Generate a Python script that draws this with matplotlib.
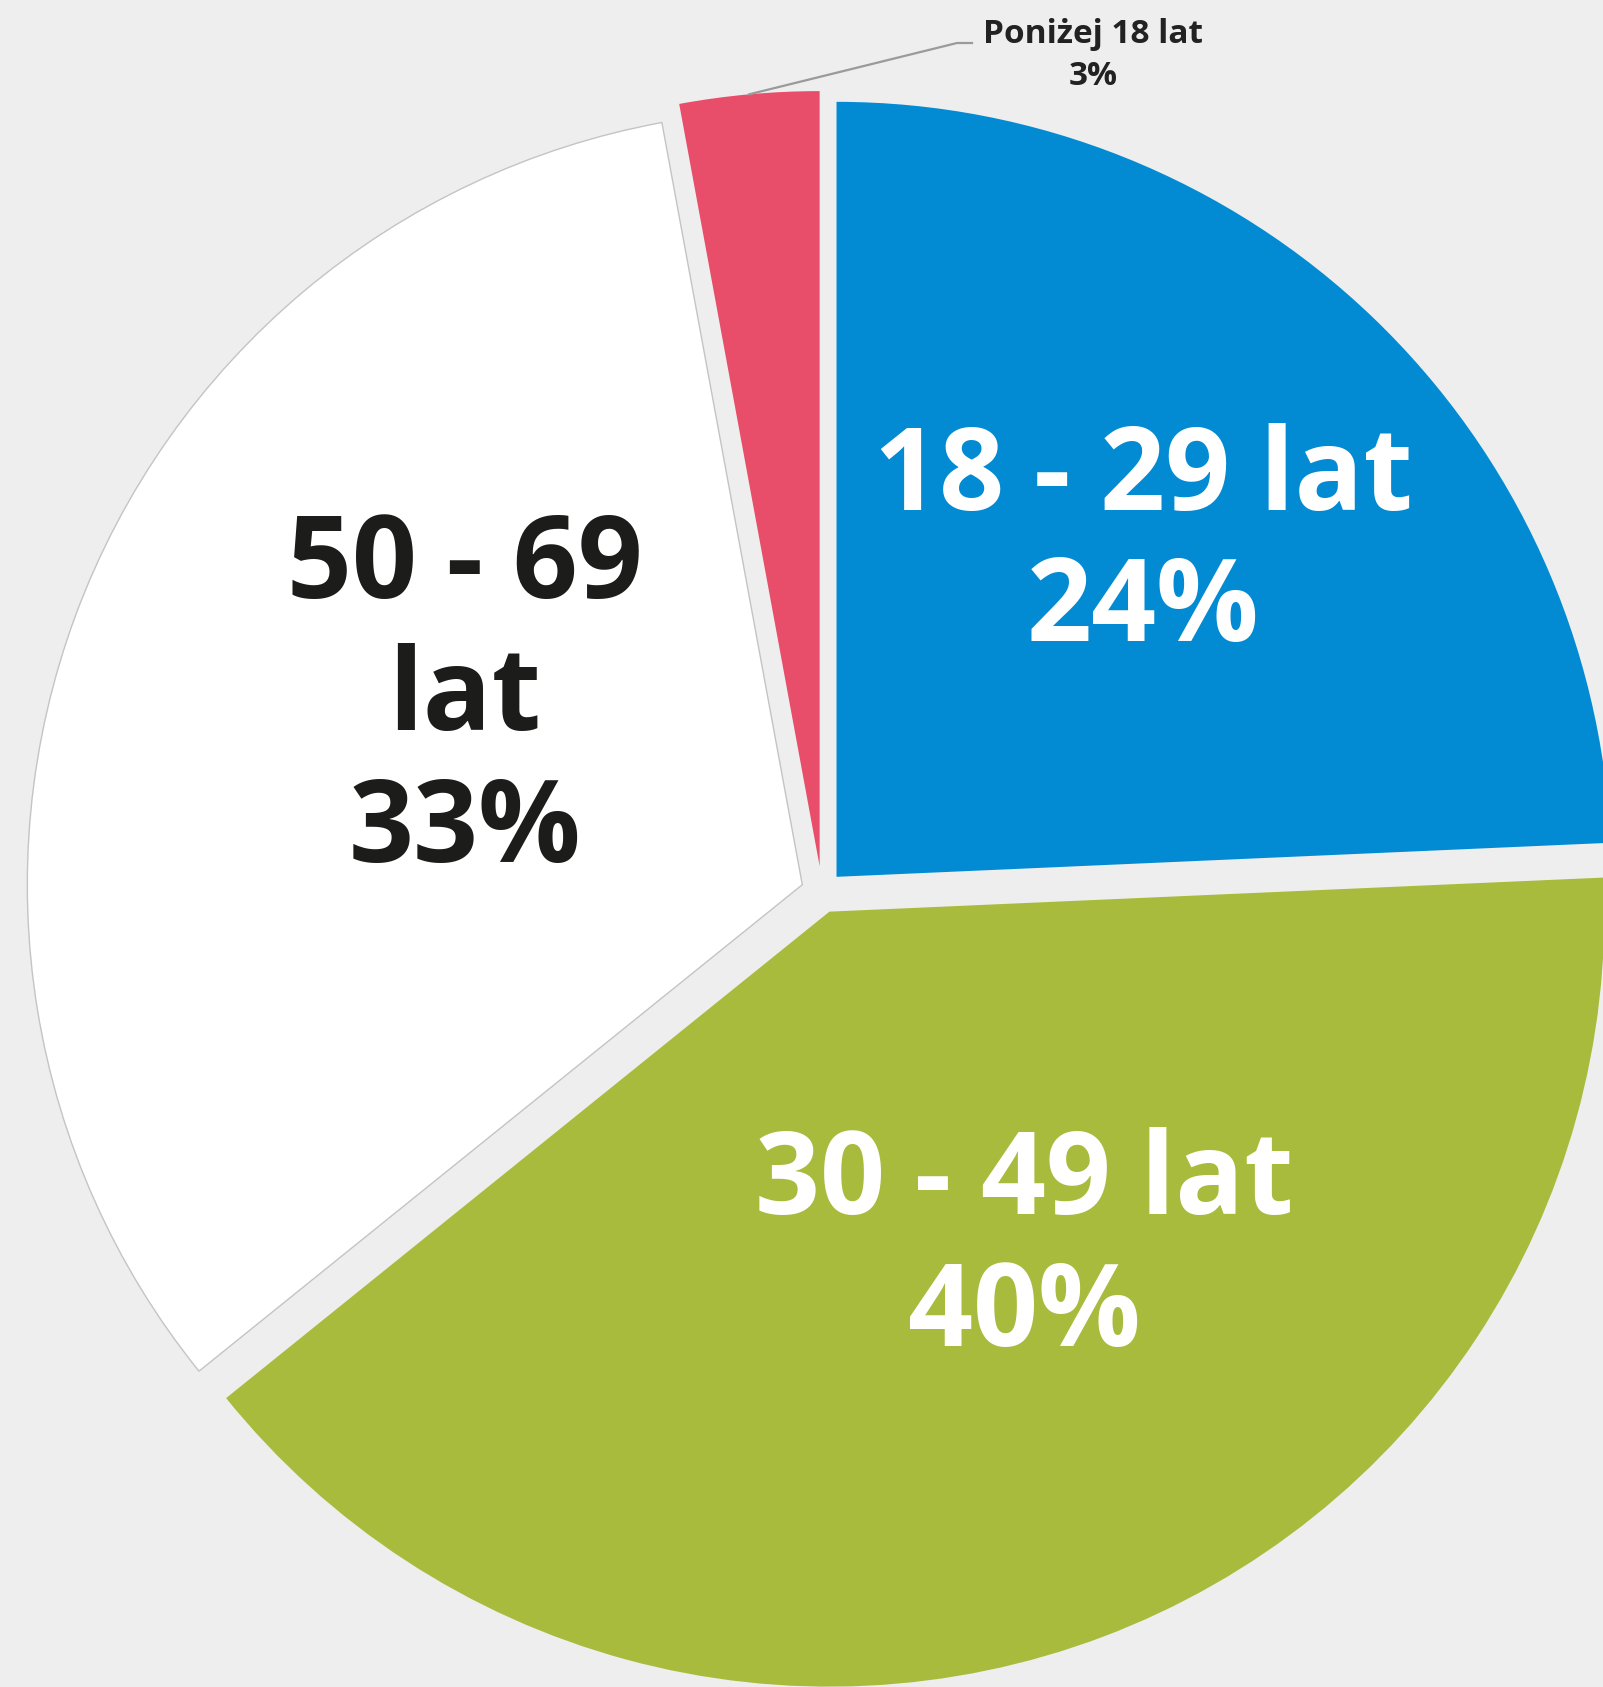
import matplotlib
matplotlib.use("Agg")
import matplotlib.pyplot as plt
import numpy as np

labels = ["18 - 29 lat", "30 - 49 lat", "50 - 69 lat", "Poniżej 18 lat"]
shares = [24.3, 39.9, 32.9, 2.9]
pct_labels = ["24%", "40%", "33%", "3%"]
colors = ["#028bd3", "#a9bb3c", "#ffffff", "#e84e6a"]

W, H = 1603, 1687
cx, cy, R = 822, H - 892, 775
explode = [21, 21, 21, 26]   # w pikselach (jednostki danych)

plt.rcParams['font.family'] = ['Open Sans', 'DejaVu Sans']

fig = plt.figure(figsize=(W / 100, H / 100), dpi=100)
fig.patch.set_facecolor("#eeeeee")
ax = fig.add_axes([0, 0, 1, 1])
ax.set_facecolor("#eeeeee")

wedges, _ = ax.pie(shares, colors=colors, explode=explode, startangle=90,
                   counterclock=False, center=(cx, cy), radius=R,
                   wedgeprops=dict(linewidth=0))
# biały wycinek z cienką szarą krawędzią
wedges[2].set_edgecolor("#c4c4c4")
wedges[2].set_linewidth(1.0)

ax.set_xlim(0, W)
ax.set_ylim(0, H)
ax.set_aspect("auto")
ax.axis("off")

big = dict(fontsize=82, fontweight="bold", ha="center", va="baseline")
ax.text(1143, H - 510, labels[0], color="white", **big)
ax.text(1143, H - 641, pct_labels[0], color="white", **big)
ax.text(1024, H - 1214, labels[1], color="white", **big)
ax.text(1024, H - 1346, pct_labels[1], color="white", **big)
ax.text(465, H - 598, "50 - 69", color="#1c1c1a", **big)
ax.text(465, H - 730, "lat", color="#1c1c1a", **big)
ax.text(465, H - 862, pct_labels[2], color="#1c1c1a", **big)

# etykieta najmniejszego wycinka z linią odniesienia
pw = wedges[3]
tm = np.deg2rad((pw.theta1 + pw.theta2) / 2)
x0 = pw.center[0] + pw.r * np.cos(tm)
y0 = pw.center[1] + pw.r * np.sin(tm)
ax.plot([x0, 957, 972], [y0, H - 43, H - 43], color="#9a9a9a", lw=1.6)
small = dict(color="#222222", fontsize=24, fontweight="bold",
             ha="center", va="baseline")
ax.text(1093, H - 43, labels[3], **small)
ax.text(1093, H - 85, pct_labels[3], **small)

fig.savefig("out.png", dpi=100, facecolor=fig.get_facecolor())
